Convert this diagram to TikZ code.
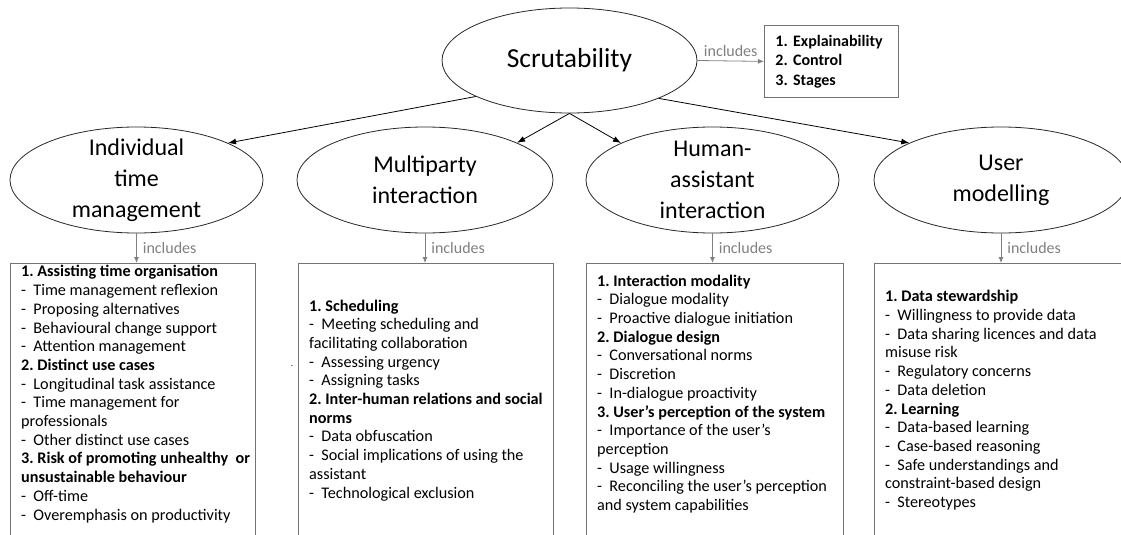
\documentclass[tikz,border=0pt]{standalone}
\usepackage{fontspec}
\setmainfont{Carlito}
\usetikzlibrary{arrows.meta,shapes.geometric}

\newcommand{\itm}{-\hspace{0.45em}}
\frenchspacing

\begin{document}
\begin{tikzpicture}[x=1pt,y=-1pt,
    bubble/.style={draw=black!85,line width=0.8pt,ellipse,inner sep=0pt,minimum width=254pt,minimum height=106pt},
    bubtext/.style={align=center,font=\fontsize{24}{31}\selectfont},
    link/.style={line width=0.8pt,-{Latex[length=8pt,width=6pt]}},
    incl/.style={draw=black!50,line width=0.8pt,-{Latex[length=6pt,width=5pt]}},
    inclabel/.style={text=black!50,font=\fontsize{16}{18}\selectfont,inner sep=2pt},
    listbox/.style={draw=black!55,line width=0.8pt,anchor=north west,minimum height=320pt,inner sep=0pt},
    listtext/.style={anchor=base west,align=left,inner sep=0pt,font=\fontsize{16.2}{18.7}\selectfont}]

    % Frame of the picture
    \useasboundingbox (0,0) rectangle (1121,535);
    \clip (0,0) rectangle (1121,535);

    % Define the ellipses
    \node[bubble,minimum width=255pt,minimum height=105pt,font=\fontsize{27.5}{30}\selectfont] (scr) at (569.5,60.5) {Scrutability};
    \node[bubble,minimum width=253pt] (e1) at (136.5,180) {};
    \node[bubble,minimum width=256pt] (e2) at (425,180) {};
    \node[bubble,minimum width=253pt] (e3) at (712.5,180) {};
    \node[bubble,minimum width=254pt] (e4) at (1001,180) {};

    \node[bubtext] (t1) at (e1) {Individual\\time\\management};
    \node[bubtext] (t2) at (e2) {Multiparty\\interaction};
    \node[bubtext] (t3) at (e3) {Human-\\assistant\\interaction};
    \node[bubtext] (t4) at (e4) {User\\modelling};

    % Draw the arrows from the top
    \draw[link] (scr.201.6) -- (e1.22);
    \draw[link] (scr.270) -- (e2.22);
    \draw[link] (scr.270) -- (e3.158);
    \draw[link] (scr.337) -- (e4.158);

    % Box next to the top ellipse
    \node[draw=black!55,line width=0.8pt,anchor=north west,minimum width=134pt,minimum height=72pt,
          inner xsep=11pt,text width=112pt,align=left,font=\bfseries\fontsize{16}{19.5}\selectfont]
          (expl) at (764,25) {1. Explainability\\2. Control\\3. Stages};
    \draw[incl] (scr.east) -- (expl.west) node[midway,above,inclabel,yshift=2pt] {includes};

    % Draw the boxes
    \node[listbox,minimum width=245pt] (b1) at (10,263) {};
    \node[listbox,minimum width=255pt] (b2) at (298,263) {};
    \node[listbox,minimum width=257pt] (b3) at (586,263) {};
    \node[listbox,minimum width=252pt] (b4) at (874,263) {};

    \draw[incl] (e1.south) -- (e1.south |- b1.north) node[midway,right,inclabel,xshift=4pt] {includes};
    \draw[incl] (e2.south) -- (e2.south |- b2.north) node[midway,right,inclabel,xshift=4pt] {includes};
    \draw[incl] (e3.south) -- (e3.south |- b3.north) node[midway,right,inclabel,xshift=4pt] {includes};
    \draw[incl] (e4.south) -- (e4.south |- b4.north) node[midway,right,inclabel,xshift=4pt] {includes};

    % Texts of the boxes (anchored at the last line)
    \node[listtext] (l1) at (21,520) {\textbf{1. Assisting time organisation}\\
        \itm Time management reflexion\\
        \itm Proposing alternatives\\
        \itm Behavioural change support\\
        \itm Attention management\\
        \textbf{2. Distinct use cases}\\
        \itm Longitudinal task assistance\\
        \itm Time management for\\
        professionals\\
        \itm Other distinct use cases\\
        \textbf{3. Risk of promoting unhealthy\ \ or}\\
        \textbf{unsustainable behaviour}\\
        \itm Off-time\\
        \itm Overemphasis on productivity};
    \node[listtext] (l2) at (309,498) {\textbf{1. Scheduling}\\
        \itm Meeting scheduling and\\
        facilitating collaboration\\
        \itm Assessing urgency\\
        \itm Assigning tasks\\
        \textbf{2. Inter-human relations and social}\\
        \textbf{norms}\\
        \itm Data obfuscation\\
        \itm Social implications of using the\\
        assistant\\
        \itm Technological exclusion};
    \node[listtext] (l3) at (597,510.5) {\textbf{1. Interaction modality}\\
        \itm Dialogue modality\\
        \itm Proactive dialogue initiation\\
        \textbf{2. Dialogue design}\\
        \itm Conversational norms\\
        \itm Discretion\\
        \itm In-dialogue proactivity\\
        \textbf{3. User’s perception of the system}\\
        \itm Importance of the user’s\\
        perception\\
        \itm Usage willingness\\
        \itm Reconciling the user’s perception\\
        and system capabilities};
    \node[listtext] (l4) at (885,507.5) {\textbf{1. Data stewardship}\\
        \itm Willingness to provide data\\
        \itm Data sharing licences and data\\
        misuse risk\\
        \itm Regulatory concerns\\
        \itm Data deletion\\
        \textbf{2. Learning}\\
        \itm Data-based learning\\
        \itm Case-based reasoning\\
        \itm Safe understandings and\\
        constraint-based design\\
        \itm Stereotypes};

    % Stray dot
    \node[font=\small,inner sep=0pt] (dot) at (292,366) {.};
\end{tikzpicture}
\end{document}
